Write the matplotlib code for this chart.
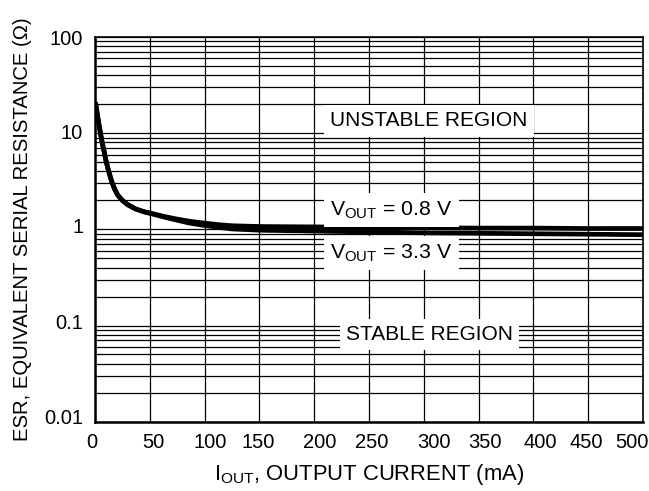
import numpy as np
import matplotlib
matplotlib.use("Agg")
import matplotlib.pyplot as plt
from matplotlib.ticker import FixedLocator, NullFormatter, LogLocator
from matplotlib.transforms import ScaledTranslation

plt.rcParams['font.family'] = ['Liberation Sans', 'DejaVu Sans']
plt.rcParams['mathtext.fontset'] = 'custom'
plt.rcParams['mathtext.rm'] = 'Liberation Sans'

# ESR boundary curves
iout_08 = [0, 1, 2, 4, 6, 8, 10, 12, 15, 18, 21, 25, 30, 37, 45, 52, 62, 73, 85, 97,
           112, 125, 150, 200, 250, 300, 350, 400, 450, 500]
esr_08 = [21.0, 19.0, 16.0, 11.5, 8.6, 6.7, 5.2, 4.2, 3.2, 2.6, 2.25, 2.0, 1.8, 1.63, 1.52,
          1.46, 1.37, 1.29, 1.22, 1.17, 1.12, 1.09, 1.07, 1.06, 1.05, 1.04, 1.03, 1.03, 1.02, 1.02]

iout_33 = [0, 1, 2, 4, 6, 8, 10, 12, 15, 18, 21, 25, 30, 37, 45, 52, 62, 73, 85, 97,
           112, 125, 150, 200, 250, 300, 350, 400, 450, 500]
esr_33 = [21.0, 19.0, 16.0, 11.5, 8.6, 6.7, 5.2, 4.2, 3.2, 2.6, 2.25, 2.0, 1.8, 1.63, 1.52,
          1.45, 1.35, 1.26, 1.17, 1.11, 1.05, 1.01, 0.98, 0.96, 0.94, 0.92, 0.91, 0.90, 0.89, 0.88]

x_ticks = [0, 50, 100, 150, 200, 250, 300, 350, 400, 450, 500]
y_ticks = [0.01, 0.1, 1, 10, 100]
y_tick_labels = ['0.01', '0.1', '1', '10', '100']

# the original's tick labels sit a little off their grid lines (pixels)
x_label_nudge = [-3, 4, 6, -1, 5, 3, 10, 6, 7, -1.5, -11]
y_label_nudge = [5, 3.8, 3.4, 1.3, 0]

fig = plt.figure(figsize=(6.49, 4.91), dpi=100)
ax = fig.add_axes([95 / 649, 1 - 421.7 / 491, (643 - 95) / 649, (421.7 - 37) / 491])

ax.set_yscale('log')
ax.set_xlim(0, 500)
ax.set_ylim(0.01, 100)

ax.plot(iout_08, esr_08, color='black', lw=3.4, solid_capstyle='butt')
ax.plot(iout_33, esr_33, color='black', lw=3.4, solid_capstyle='butt')

ax.xaxis.set_major_locator(FixedLocator(x_ticks))
ax.set_xticklabels([str(v) for v in x_ticks])
ax.yaxis.set_major_locator(FixedLocator(y_ticks))
ax.set_yticklabels(y_tick_labels)
ax.yaxis.set_minor_locator(LogLocator(base=10, subs=np.arange(2, 10), numticks=20))
ax.yaxis.set_minor_formatter(NullFormatter())

ax.grid(True, axis='x', which='major', color='black', lw=0.9)
ax.grid(True, axis='y', which='both', color='black', lw=0.9)
ax.tick_params(which='both', length=0, labelsize=14.5, colors='black')
ax.tick_params(axis='x', pad=8)
ax.tick_params(axis='y', pad=8.5)

for lab, dx in zip(ax.get_xticklabels(), x_label_nudge):
    lab.set_transform(lab.get_transform() + ScaledTranslation(dx / 100, 0, fig.dpi_scale_trans))
for lab, dy in zip(ax.get_yticklabels(), y_label_nudge):
    lab.set_transform(lab.get_transform() + ScaledTranslation(0, dy / 100, fig.dpi_scale_trans))

for side in ['left', 'bottom']:
    ax.spines[side].set_linewidth(1.8)
for side in ['top', 'right']:
    ax.spines[side].set_linewidth(1.2)

box = dict(facecolor='white', edgecolor='none', boxstyle='square', pad=0.3)
ax.text(214.5, 11.8, 'UNSTABLE REGION', fontsize=15, ha='left', va='baseline', bbox=box)
ax.text(214.5, 1.40, r'V$_{\mathregular{OUT}}$ = 0.8 V', fontsize=15.3, ha='left', va='baseline', bbox=box)
ax.text(214.5, 0.50, r'V$_{\mathregular{OUT}}$ = 3.3 V', fontsize=15.3, ha='left', va='baseline', bbox=box)
ax.text(229, 0.0706, 'STABLE REGION', fontsize=15, ha='left', va='baseline', bbox=box)

ax.set_xlabel(r'I$_{\mathregular{OUT}}$, OUTPUT CURRENT (mA)', fontsize=15.8, labelpad=7)
ax.set_ylabel('ESR, EQUIVALENT SERIAL RESISTANCE (\u03a9)', fontsize=14.6, labelpad=9)

fig.savefig('out.png', dpi=100)
